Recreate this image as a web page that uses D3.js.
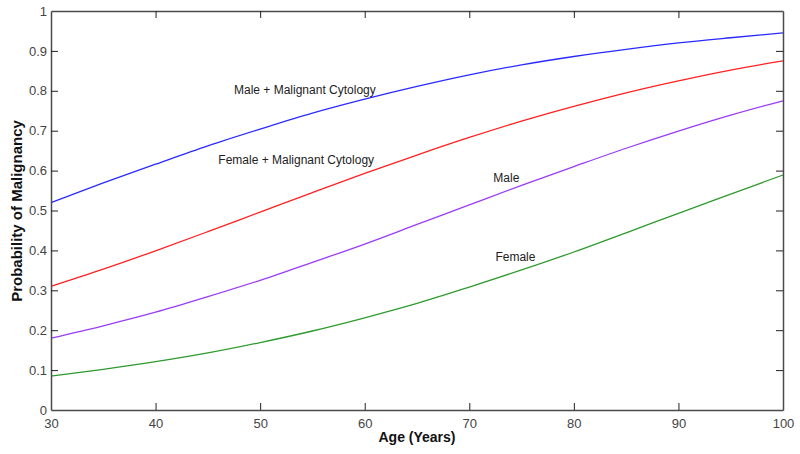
<!DOCTYPE html>
<html>
<head>
<meta charset="utf-8">
<script src="https://cdn.jsdelivr.net/npm/d3@7"></script>
<style>
  html, body { margin: 0; padding: 0; background: #fff; }
  svg { display: block; font-family: Arial, "Liberation Sans", Helvetica, sans-serif; }
</style>
</head>
<body>
<svg id="chart" width="800" height="454"></svg>
<script>
// ---- Data ----
const ages = [30, 35, 40, 45, 50, 55, 60, 65, 70, 75, 80, 85, 90, 95, 100];
const maleMalignantCytology   = [0.520, 0.569, 0.616, 0.662, 0.704, 0.744, 0.779, 0.811, 0.840, 0.865, 0.886, 0.904, 0.920, 0.933, 0.945];
const femaleMalignantCytology = [0.310, 0.353, 0.399, 0.447, 0.496, 0.545, 0.593, 0.639, 0.683, 0.724, 0.761, 0.795, 0.825, 0.852, 0.875];
const male                    = [0.180, 0.211, 0.245, 0.284, 0.325, 0.370, 0.416, 0.465, 0.514, 0.563, 0.610, 0.656, 0.699, 0.739, 0.775];
const female                  = [0.085, 0.102, 0.121, 0.143, 0.169, 0.198, 0.231, 0.267, 0.308, 0.351, 0.396, 0.444, 0.493, 0.541, 0.589];
const seriesNames = ["Male + Malignant Cytology", "Female + Malignant Cytology", "Male", "Female"];
const xTicks = [30, 40, 50, 60, 70, 80, 90, 100];
const yTicks = [0, 0.1, 0.2, 0.3, 0.4, 0.5, 0.6, 0.7, 0.8, 0.9, 1];
const xTitle = "Age (Years)";
const yTitle = "Probability of Malignancy";

// ---- Layout / style ----
const plotLeft = 51, plotRight = 783, plotTop = 11, plotBottom = 410;
const colors = ["#2a2aff", "#ff2020", "#9a3cf5", "#2e9a2e"];
const labelPos = [ // [age, prob] anchor for label text (start)
  [47.5, 0.793], [46.0, 0.616], [72.3, 0.572], [72.5, 0.374]
];
const axisColor = "#4a4a4a";

const svg = d3.select("#chart");
const x = d3.scaleLinear().domain([30, 100]).range([plotLeft, plotRight]);
const y = d3.scaleLinear().domain([0, 1]).range([plotBottom, plotTop]);

const seriesValues = [maleMalignantCytology, femaleMalignantCytology, male, female];
const line = d3.line()
  .x(d => x(d[0]))
  .y(d => y(d[1]))
  .curve(d3.curveMonotoneX);

// Lines
seriesValues.forEach((vals, i) => {
  svg.append("path")
    .datum(ages.map((a, j) => [a, vals[j]]))
    .attr("fill", "none")
    .attr("stroke", colors[i])
    .attr("stroke-width", 1.3)
    .attr("d", line);
});

// Axes
const tickLen = 7;
const xAxisB = svg.append("g").attr("transform", `translate(0,${plotBottom})`)
  .call(d3.axisBottom(x).tickValues(xTicks).tickSizeInner(-tickLen).tickSizeOuter(0).tickPadding(6).tickFormat(d3.format("d")));
const xAxisT = svg.append("g").attr("transform", `translate(0,${plotTop})`)
  .call(d3.axisTop(x).tickValues(xTicks).tickSizeInner(-tickLen).tickSizeOuter(0).tickFormat(""));
const yAxisL = svg.append("g").attr("transform", `translate(${plotLeft},0)`)
  .call(d3.axisLeft(y).tickValues(yTicks).tickSizeInner(-tickLen).tickSizeOuter(0).tickPadding(4).tickFormat(d => d === 0 ? "0" : d === 1 ? "1" : d3.format(".1f")(d)));
const yAxisR = svg.append("g").attr("transform", `translate(${plotRight},0)`)
  .call(d3.axisRight(y).tickValues(yTicks).tickSizeInner(-tickLen).tickSizeOuter(0).tickFormat(""));

[xAxisB, xAxisT, yAxisL, yAxisR].forEach(g => {
  g.select(".domain").attr("stroke", axisColor).attr("stroke-width", 1.5);
  g.selectAll(".tick line").attr("stroke", "#222").attr("stroke-width", 1);
  g.selectAll(".tick text").attr("fill", "#444").attr("font-size", 13)
    .attr("font-family", "Arial, 'Liberation Sans', sans-serif");
});
xAxisB.selectAll(".tick text").attr("dy", "0.9em");
// hide ticks at the corners (box edges cover them)
[xAxisB, xAxisT].forEach(g => g.selectAll(".tick line").filter(d => d === 30 || d === 100).remove());
[yAxisL, yAxisR].forEach(g => g.selectAll(".tick line").filter(d => d === 0 || d === 1).remove());

// Series labels
seriesNames.forEach((name, i) => {
  svg.append("text")
    .attr("x", x(labelPos[i][0]))
    .attr("y", y(labelPos[i][1]))
    .attr("font-size", 12)
    .attr("fill", "#222")
    .text(name);
});

// Axis titles
svg.append("text")
  .attr("x", (plotLeft + plotRight) / 2)
  .attr("y", 442)
  .attr("text-anchor", "middle")
  .attr("font-size", 14)
  .attr("font-weight", "bold")
  .attr("fill", "#111")
  .text(xTitle);

svg.append("text")
  .attr("transform", `translate(22,211) rotate(-90)`)
  .attr("text-anchor", "middle")
  .attr("font-size", 15)
  .attr("font-weight", "bold")
  .attr("fill", "#111")
  .text(yTitle);
</script>
</body>
</html>
